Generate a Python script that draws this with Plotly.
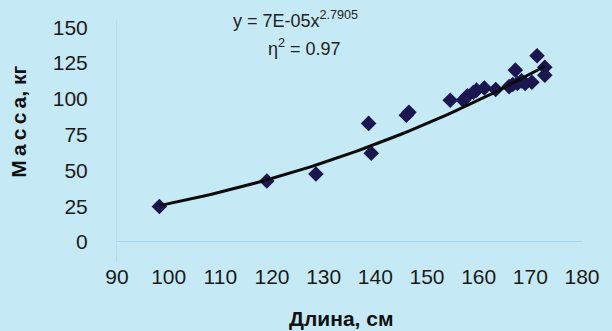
import plotly.graph_objects as go
import numpy as np

# Data
lengths_cm = [98.2, 119.0, 128.5, 138.7, 139.2, 146.0, 146.5, 154.5, 157.0, 157.8,
              159.0, 159.6, 161.1, 163.3, 165.9, 166.6, 167.1, 167.5, 168.3, 169.0,
              170.3, 171.3, 172.8, 172.8]
masses_kg = [24.8, 42.6, 47.5, 82.8, 62.0, 88.5, 90.5, 99.0, 99.0, 102.0,
             104.5, 106.0, 107.5, 106.5, 108.5, 110.0, 120.0, 110.7, 112.5, 110.7,
             111.5, 130.0, 122.0, 116.5]

# Power trendline coefficients as printed on the chart
coef_a = 7e-05
coef_b = 2.7905
r2_text = "0.97"

x_ticks = [90, 100, 110, 120, 130, 140, 150, 160, 170, 180]
y_ticks = [0, 25, 50, 75, 100, 125, 150]

trend_x = np.linspace(min(lengths_cm), max(lengths_cm), 60)
trend_y = coef_a * trend_x ** coef_b

FONT = "Liberation Sans, Arial, sans-serif"
BG = "#c6eaf5"

fig = go.Figure()
fig.add_trace(go.Scatter(
    x=lengths_cm, y=masses_kg, mode="markers",
    marker=dict(symbol="diamond", size=12, color="#1c1650"),
    showlegend=False, hoverinfo="skip"))
fig.add_trace(go.Scatter(
    x=trend_x, y=trend_y, mode="lines",
    line=dict(color="#0a0a0a", width=3),
    showlegend=False, hoverinfo="skip"))

fig.update_layout(
    width=612, height=331,
    margin=dict(l=117, r=21, t=20, b=69),
    paper_bgcolor=BG, plot_bgcolor=BG,
    font=dict(family=FONT, size=21, color="#1a1a1a"),
    xaxis=dict(range=[90, 180], tickvals=x_ticks, showgrid=False,
               zeroline=False, showline=False, ticks="",
               tickfont=dict(size=21, color="#1a1a1a")),
    yaxis=dict(range=[-14, 155], tickvals=y_ticks, showgrid=False,
               zeroline=True, zerolinecolor="#a6d6ec", zerolinewidth=1,
               showline=True, linecolor="#b3dcee", linewidth=1,
               ticks="outside", ticklen=24, tickcolor="rgba(0,0,0,0)",
               tickfont=dict(size=21, color="#1a1a1a")),
    annotations=[
        dict(text="М\u2009а\u2009с\u2009с\u2009а, кг", textangle=-90,
             xref="paper", yref="paper", x=-0.211, y=0.579,
             xanchor="center", yanchor="middle", showarrow=False,
             font=dict(family=FONT, size=21, color="#111111", weight="bold")),
        dict(text="Длина, см", xref="paper", yref="paper",
             x=0.481, y=-0.234, xanchor="center", yanchor="middle",
             showarrow=False,
             font=dict(family=FONT, size=21, color="#111111", weight="bold")),
        dict(text="y = 7E-05x<sup>2.7905</sup>", xref="paper", yref="paper",
             x=0.384, y=1.004, xanchor="center", yanchor="middle",
             showarrow=False,
             font=dict(family=FONT, size=18, color="#222222")),
        dict(text="η<sup>2</sup> = " + r2_text, xref="paper", yref="paper",
             x=0.403, y=0.888, xanchor="center", yanchor="middle",
             showarrow=False,
             font=dict(family=FONT, size=18, color="#222222")),
    ],
)

fig.write_html("out.html", config={"displayModeBar": False},
               post_script="document.body.style.margin='0';")
